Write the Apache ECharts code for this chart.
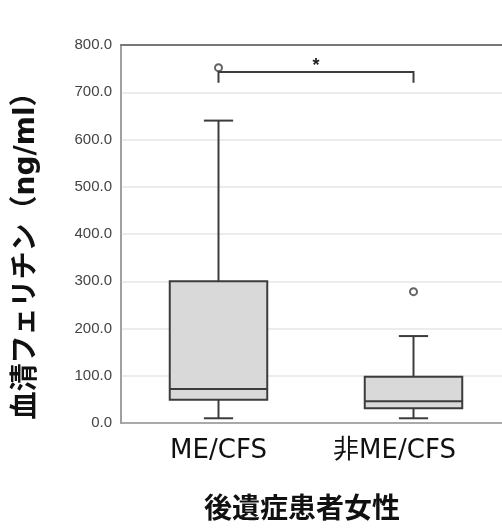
<!DOCTYPE html>
<html>
<head>
<meta charset="utf-8">
<script src="https://cdn.jsdelivr.net/npm/echarts@6/dist/echarts.min.js"></script>
<style>
  html, body { margin: 0; padding: 0; background: #fff; }
  #main { width: 502px; height: 528px; }
</style>
</head>
<body>
<div id="main"></div>
<script>
// カテゴリと箱ひげ図の値
var categories = ['ME/CFS', '非ME/CFS'];
// [min, Q1, median, Q3, max]
var boxValues = [
    [10, 49, 72, 300, 640],
    [10, 31, 46, 98, 184]
];
var outliers = [[0, 752], [1, 278]];
var bracket = [0, 1, 743, 720];   // from, to, top, bottom
var yTicks = [0, 100, 200, 300, 400, 500, 600, 700, 800];

var myChart = echarts.init(document.getElementById('main'));

var boxData = boxValues.map(function (v, i) {
    return [i].concat(v);
});

var option = {
    animation: false,
    grid: {
        left: 121,
        top: 45,
        width: 390,
        bottom: 105,
        outerBoundsMode: 'none',
        show: true,
        borderColor: '#999',
        borderWidth: 1.5
    },
    xAxis: [{
        type: 'category',
        data: categories,
        axisLine: { lineStyle: { color: '#999', width: 1.5 } },
        axisTick: { show: false },
        axisLabel: {
            margin: 15,
            formatter: function (v, i) {
                return i === 1 ? '{b|' + v + '}' : '{a|' + v + '}';
            },
            rich: {
                a: { fontFamily: 'DejaVu Sans, Noto Sans CJK JP', fontSize: 26, color: '#111' },
                b: { fontFamily: 'DejaVu Sans, Noto Sans CJK JP', fontSize: 26, color: '#111', padding: [0, 38, 0, 0] }
            }
        }
    }, {
        type: 'category',
        position: 'top',
        data: categories,
        axisLine: { lineStyle: { color: '#777', width: 2 } },
        axisTick: { show: false },
        axisLabel: { show: false }
    }],
    yAxis: {
        type: 'value',
        min: yTicks[0],
        max: yTicks[yTicks.length - 1],
        interval: 100,
        axisLine: { show: true, lineStyle: { color: '#999', width: 1.5 } },
        axisTick: { show: false },
        axisLabel: {
            margin: 9,
            fontFamily: 'Liberation Sans',
            fontSize: 15,
            color: '#444',
            formatter: function (v) { return v.toFixed(1); }
        },
        splitLine: { lineStyle: { color: '#e6e6e6', width: 1.5 } }
    },
    graphic: [{
        type: 'text',
        x: 27,
        y: 249,
        rotation: Math.PI / 2,
        style: {
            text: '血清フェリチン（ng/ml）',
            fontFamily: 'DejaVu Sans, Noto Sans CJK JP',
            fontWeight: 'bold',
            fontSize: 28,
            fill: '#111',
            align: 'center',
            verticalAlign: 'middle'
        }
    }, {
        type: 'text',
        x: 302,
        y: 507,
        style: {
            text: '後遺症患者女性',
            fontFamily: 'Noto Sans CJK JP',
            fontWeight: 'bold',
            fontSize: 28,
            fill: '#111',
            align: 'center',
            verticalAlign: 'middle'
        }
    }],
    series: [{
        type: 'custom',
        data: boxData,
        encode: { x: 0, y: [1, 2, 3, 4, 5] },
        renderItem: function (params, api) {
            var c = api.value(0);
            var band = api.size([1, 0])[0];
            var hw = band * 0.25;
            var cw = band * 0.075;
            var pMin = api.coord([c, api.value(1)]);
            var pQ1 = api.coord([c, api.value(2)]);
            var pMed = api.coord([c, api.value(3)]);
            var pQ3 = api.coord([c, api.value(4)]);
            var pMax = api.coord([c, api.value(5)]);
            var x = pMed[0];
            var ls = { stroke: '#3c3c3c', lineWidth: 2, fill: null };
            return {
                type: 'group',
                children: [
                    { type: 'line', shape: { x1: x, y1: pMax[1], x2: x, y2: pQ3[1] }, style: ls },
                    { type: 'line', shape: { x1: x, y1: pQ1[1], x2: x, y2: pMin[1] }, style: ls },
                    { type: 'line', shape: { x1: x - cw, y1: pMax[1], x2: x + cw, y2: pMax[1] }, style: ls },
                    { type: 'line', shape: { x1: x - cw, y1: pMin[1], x2: x + cw, y2: pMin[1] }, style: ls },
                    {
                        type: 'rect',
                        shape: { x: x - hw, y: pQ3[1], width: hw * 2, height: pQ1[1] - pQ3[1] },
                        style: { fill: '#d9d9d9', stroke: '#3c3c3c', lineWidth: 2 }
                    },
                    { type: 'line', shape: { x1: x - hw, y1: pMed[1], x2: x + hw, y2: pMed[1] }, style: ls }
                ]
            };
        }
    }, {
        type: 'scatter',
        data: outliers,
        symbol: 'emptyCircle',
        symbolSize: 7,
        itemStyle: { color: '#3c3c3c', borderWidth: 1.5 },
        z: 5
    }, {
        type: 'custom',
        data: [bracket],
        encode: { x: [0, 1], y: [2, 3] },
        renderItem: function (params, api) {
            var a = api.coord([api.value(0), api.value(2)]);
            var b = api.coord([api.value(1), api.value(2)]);
            var yb = api.coord([api.value(0), api.value(3)])[1];
            return {
                type: 'group',
                children: [{
                    type: 'polyline',
                    shape: { points: [[a[0], yb], a, b, [b[0], yb]] },
                    style: { stroke: '#3c3c3c', lineWidth: 2, fill: null }
                }, {
                    type: 'text',
                    x: (a[0] + b[0]) / 2,
                    y: a[1] + 3,
                    style: {
                        text: '*',
                        fontFamily: 'Liberation Sans',
                        fontWeight: 'bold',
                        fontSize: 18,
                        fill: '#222',
                        align: 'center',
                        verticalAlign: 'bottom'
                    }
                }]
            };
        }
    }]
};

myChart.setOption(option);
</script>
</body>
</html>
